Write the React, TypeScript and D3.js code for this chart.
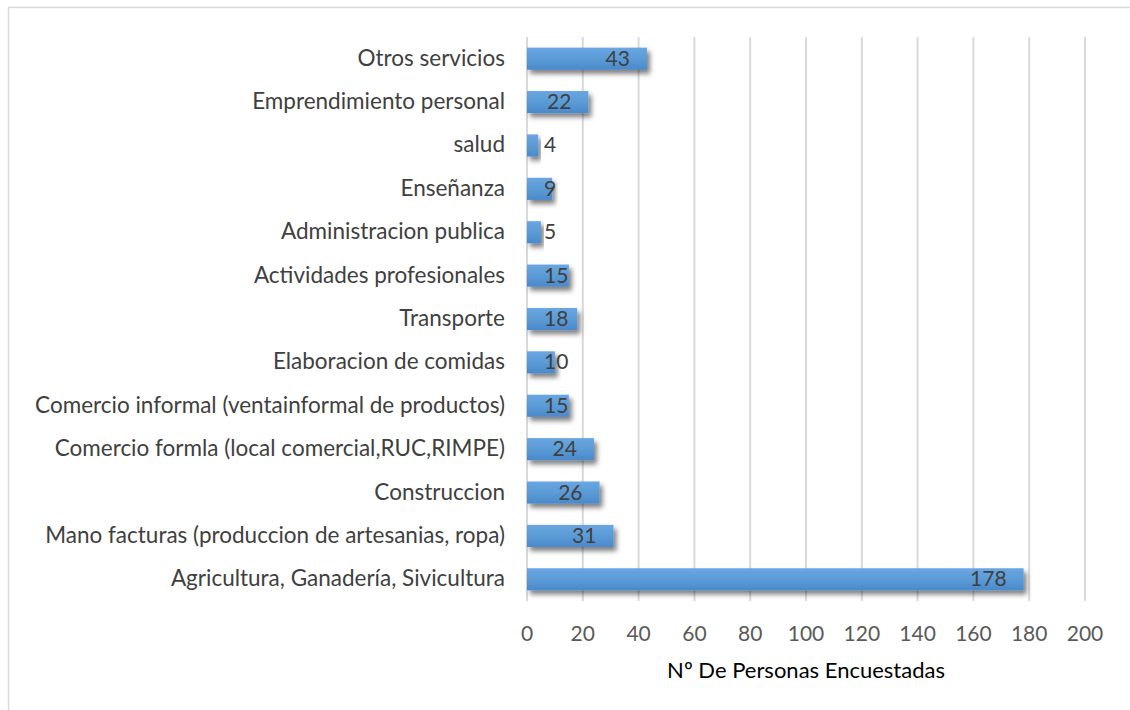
import { useEffect, useRef } from 'react';
import * as d3 from 'd3';

const categories = [
  'Agricultura, Ganadería, Sivicultura',
  'Mano facturas (produccion de artesanias, ropa)',
  'Construccion',
  'Comercio formla (local comercial,RUC,RIMPE)',
  'Comercio informal (ventainformal de productos)',
  'Elaboracion de comidas',
  'Transporte',
  'Actividades profesionales',
  'Administracion publica',
  'Enseñanza',
  'salud',
  'Emprendimiento personal',
  'Otros servicios',
];
const values = [178, 31, 26, 24, 15, 10, 18, 15, 5, 9, 4, 22, 43];
const xTicks = [0, 20, 40, 60, 80, 100, 120, 140, 160, 180, 200];
const xTitle = 'Nº De Personas Encuestadas';

const W = 1130;
const H = 710;
const FONT = 'Lato, "Open Sans", sans-serif';

const App: React.FC = () => {
  const svgRef = useRef<SVGSVGElement>(null);

  useEffect(() => {
    if (!svgRef.current) return;
    const root = d3.select(svgRef.current);
    root.selectAll('*').remove();

    const left = 527, right = 1085, top = 37, bottom = 601;

    const x = d3.scaleLinear().domain([0, 200]).range([left, right]);
    const y = d3.scaleBand<string>()
      .domain(categories.slice().reverse())
      .range([top, bottom])
      .paddingInner(0.49)
      .paddingOuter(0.245);

    const defs = root.append('defs');
    const grad = defs.append('linearGradient')
      .attr('id', 'barGrad')
      .attr('x1', 0).attr('y1', 0).attr('x2', 0).attr('y2', 1);
    grad.append('stop').attr('offset', '0%').attr('stop-color', '#6aa6e2');
    grad.append('stop').attr('offset', '50%').attr('stop-color', '#5b9bd5');
    grad.append('stop').attr('offset', '100%').attr('stop-color', '#4a89cb');

    const shadow = defs.append('filter')
      .attr('id', 'shadow')
      .attr('x', '-10%').attr('y', '-30%')
      .attr('width', '130%').attr('height', '190%');
    shadow.append('feDropShadow')
      .attr('dx', 3).attr('dy', 4)
      .attr('stdDeviation', 2.5)
      .attr('flood-color', '#000')
      .attr('flood-opacity', 0.5);

    // chart area border
    root.append('rect')
      .attr('x', 8.5).attr('y', 7.5)
      .attr('width', W).attr('height', H)
      .attr('fill', '#fff')
      .attr('stroke', '#d9d9d9')
      .attr('stroke-width', 1.5);

    // gridlines
    root.append('g')
      .selectAll('line')
      .data(xTicks)
      .join('line')
      .attr('x1', d => x(d)).attr('x2', d => x(d))
      .attr('y1', top).attr('y2', bottom)
      .attr('stroke', '#d9d9d9')
      .attr('stroke-width', 2);

    // tick labels
    root.append('g')
      .selectAll('text')
      .data(xTicks)
      .join('text')
      .attr('x', d => x(d))
      .attr('y', 641)
      .attr('text-anchor', 'middle')
      .attr('font-family', FONT)
      .attr('font-size', 21)
      .attr('fill', '#595959')
      .text(d => d);

    // axis title
    root.append('text')
      .attr('x', 806)
      .attr('y', 678)
      .attr('text-anchor', 'middle')
      .attr('font-family', FONT)
      .attr('font-size', 22)
      .attr('fill', '#000')
      .text(xTitle);

    // category labels
    root.append('g')
      .selectAll('text')
      .data(categories)
      .join('text')
      .attr('x', 505)
      .attr('y', d => (y(d) as number) + y.bandwidth() / 2 + 7)
      .attr('text-anchor', 'end')
      .attr('font-family', FONT)
      .attr('font-size', 22.5)
      .attr('fill', '#404040')
      .text(d => d);

    // bars
    root.append('g')
      .selectAll('rect')
      .data(categories)
      .join('rect')
      .attr('x', x(0))
      .attr('y', d => y(d) as number)
      .attr('width', (_d, i) => x(values[i]) - x(0))
      .attr('height', y.bandwidth())
      .attr('fill', 'url(#barGrad)')
      .attr('filter', 'url(#shadow)');

    // data labels: inside end, pushed out from the base when the bar is short
    const labels = root.append('g')
      .selectAll('text')
      .data(categories)
      .join('text')
      .attr('y', d => (y(d) as number) + y.bandwidth() / 2 + 7)
      .attr('font-family', FONT)
      .attr('font-size', 21)
      .attr('fill', '#404040')
      .text((_d, i) => values[i]);

    labels.each(function (_d, i) {
      const node = this as SVGTextElement;
      const w = node.getComputedTextLength();
      const pos = Math.max(x(values[i]) - 17 - w, x(0) + 17);
      d3.select(node).attr('x', pos);
    });
  }, []);

  return (
    <svg
      ref={svgRef}
      width={W}
      height={H}
      style={{ position: 'absolute', left: 0, top: 0, background: '#fff' }}
    />
  );
};

export default App;
